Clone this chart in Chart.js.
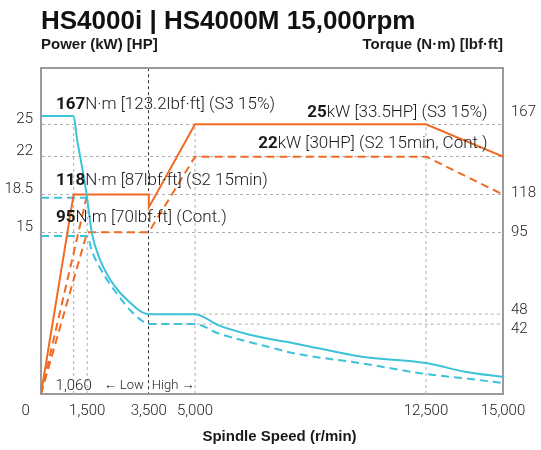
<!DOCTYPE html>
<html>
<head>
<meta charset="utf-8">
<title>HS4000i | HS4000M 15,000rpm</title>
<script src="https://cdn.jsdelivr.net/npm/chart.js@4.4.1/dist/chart.umd.min.js"></script>
<style>
  html, body { margin: 0; padding: 0; background: #fff; }
  #contenedor { width: 541px; height: 450px; position: relative; }
</style>
</head>
<body>
<div id="contenedor"><canvas id="grafica"></canvas></div>
<script>
// Ticks de los ejes
const velTicks = [0, 1500, 3500, 5000, 12500, 15000];
const potTicks = [15, 18.5, 22, 25];
const parTicks = [42, 48, 95, 118, 167];

// Potencia S3 15% (kW)
const potS3Vel = [0, 1060, 3500, 3500, 5000, 12500, 15000];
const potS3 = [0, 18.5, 18.5, 17.3, 25, 25, 22];
// Potencia S2 15min, tramo bajo (después coincide con S3)
const potS2Vel = [0, 1500];
const potS2 = [0, 18.5];
// Potencia continua (y S2 en alta)
const potContVel = [0, 1500, 3500, 5000, 12500, 15000];
const potCont = [0, 15, 15, 22, 22, 18.5];

// Par S3 15% (N·m)
const parS3Vel = [0, 1060, 1170, 1270, 1480, 1650, 1910, 2240, 2560, 2890, 3210, 3500, 5000, 5750, 6620, 7480, 8240, 10420, 12500, 13770, 15000];
const parS3 = [167, 167, 153, 143, 120, 97, 81, 69, 61, 55, 50, 48, 48, 41.4, 36.4, 32.9, 30.4, 22.4, 18.6, 13.4, 10.2];
// Par S2 15min
const parS2Vel = [0, 1500];
const parS2 = [118, 118];
// Par continuo (y S2 en alta)
const parContVel = [0, 1500, 1650, 1910, 2240, 2560, 2890, 3210, 3500, 5000, 5750, 6510, 7370, 8240, 10420, 12500, 13770, 15000];
const parCont = [95, 95, 86, 76, 66, 58, 50.5, 45, 42, 42, 36.5, 32.4, 28.4, 24.4, 18.4, 12, 9.4, 6.6];

// Líneas guía verticales (velocidad y potencia donde terminan)
const guiaVel = [1060, 1500, 5000, 12500];
const guiaPot = [25, 18.5, 25, 25];
// Líneas de referencia de par en alta
const refPar = [48, 42];
const refVel = [3500, 15000];

const naranja = '#f26a22';
const cian = '#3cc3d9';
const gris = '#b0b0b0';

function puntos(xs, ys) {
    return xs.map((x, i) => ({ x: x, y: ys[i] }));
}

function formatoVel(v) {
    if (v === 0) return '0\u2003\u2003';
    return v.toLocaleString('en-US');
}

const fuenteTicks = { family: 'Roboto, sans-serif', size: 15, weight: '300' };

// Textos dentro del gráfico
const notas = [
    { vel: 486, kw: 26.8, fuerte: '167', resto: 'N·m [123.2lbf·ft] (S3 15%)', lado: 'left' },
    { vel: 486, kw: 19.8, fuerte: '118', resto: 'N·m [87lbf·ft] (S2 15min)', lado: 'left' },
    { vel: 486, kw: 16.3, fuerte: '95', resto: 'N·m [70lbf·ft] (Cont.)', lado: 'left' },
    { vel: 14500, kw: 26.1, fuerte: '25', resto: 'kW [33.5HP] (S3 15%)', lado: 'right' },
    { vel: 14500, kw: 23.2, fuerte: '22', resto: 'kW [30HP] (S2 15min, Cont.)', lado: 'right' }
];

const textosPlugin = {
    id: 'textos',
    afterDatasetsDraw(chart) {
        const ctx = chart.ctx;
        const area = chart.chartArea;
        const x = chart.scales.x;
        const yP = chart.scales.yP;
        ctx.save();
        ctx.fillStyle = '#1a1a1a';
        ctx.textBaseline = 'middle';

        // títulos de los ejes verticales
        ctx.font = 'bold 15px "Liberation Sans", Arial, sans-serif';
        ctx.textAlign = 'left';
        ctx.fillText('Power (kW) [HP]', area.left, area.top - 23);
        ctx.textAlign = 'right';
        ctx.fillText('Torque (N·m) [lbf·ft]', area.right, area.top - 23);

        // notas con valor en negrita
        ctx.textAlign = 'left';
        notas.forEach(n => {
            const fB = 'bold 17px Roboto, sans-serif';
            const fR = '300 17px Roboto, sans-serif';
            ctx.font = fB;
            const wB = ctx.measureText(n.fuerte).width;
            ctx.font = fR;
            const wR = ctx.measureText(n.resto).width;
            let px = x.getPixelForValue(n.vel);
            if (n.lado === 'right') px -= wB + wR;
            const py = yP.getPixelForValue(n.kw);
            ctx.font = fB;
            ctx.fillText(n.fuerte, px, py);
            ctx.font = fR;
            ctx.fillText(n.resto, px + wB, py);
        });

        // marcas abajo
        const yBase = yP.getPixelForValue(0) - 8;
        ctx.font = '300 15px Roboto, sans-serif';
        ctx.textAlign = 'center';
        ctx.fillText('1,060', x.getPixelForValue(1060), yBase);
        ctx.font = '300 13px Roboto, sans-serif';
        ctx.textAlign = 'right';
        ctx.fillText('\u2190 Low', x.getPixelForValue(3500) - 5, yBase);
        ctx.textAlign = 'left';
        ctx.fillText('High \u2192', x.getPixelForValue(3500) + 3, yBase);
        ctx.restore();
    }
};

const datasets = [
    { data: puntos(parS3Vel, parS3), yAxisID: 'yT', borderColor: cian, borderWidth: 2, cubicInterpolationMode: 'monotone' },
    { data: puntos(potS3Vel, potS3), yAxisID: 'yP', borderColor: naranja, borderWidth: 2 },
    { data: puntos(parS2Vel, parS2), yAxisID: 'yT', borderColor: cian, borderWidth: 2, borderDash: [8, 5] },
    { data: puntos(parContVel, parCont), yAxisID: 'yT', borderColor: cian, borderWidth: 2, borderDash: [8, 5], cubicInterpolationMode: 'monotone' },
    { data: puntos(potS2Vel, potS2), yAxisID: 'yP', borderColor: naranja, borderWidth: 2, borderDash: [8, 5] },
    { data: puntos(potContVel, potCont), yAxisID: 'yP', borderColor: naranja, borderWidth: 2, borderDash: [8, 5] }
];

guiaVel.forEach((v, i) => {
    datasets.push({ data: [{ x: v, y: 0 }, { x: v, y: guiaPot[i] }], yAxisID: 'yP', borderColor: gris, borderWidth: 1, borderDash: [3, 3] });
});
refPar.forEach(p => {
    datasets.push({ data: refVel.map(v => ({ x: v, y: p })), yAxisID: 'yT', borderColor: gris, borderWidth: 1, borderDash: [3, 3] });
});

new Chart(document.getElementById('grafica'), {
    type: 'line',
    data: { datasets: datasets },
    options: {
        responsive: true,
        maintainAspectRatio: false,
        animation: false,
        events: [],
        elements: { point: { radius: 0 }, line: { tension: 0, fill: false } },
        layout: { padding: 0 },
        plugins: {
            legend: { display: false },
            tooltip: { enabled: false },
            title: {
                display: true,
                text: 'HS4000i | HS4000M 15,000rpm',
                align: 'start',
                fullSize: false,
                color: '#111',
                font: { family: '"Liberation Sans", Arial, sans-serif', size: 26, weight: 'bold' },
                padding: { top: 6, bottom: 31 }
            }
        },
        scales: {
            x: {
                type: 'linear',
                position: 'bottom',
                min: 0,
                max: 15000,
                afterBuildTicks: axis => { axis.ticks = velTicks.map(v => ({ value: v })); },
                afterFit: axis => { axis.height = 56; },
                ticks: { autoSkip: false, maxRotation: 0, padding: 8, color: '#222', font: fuenteTicks, callback: formatoVel },
                grid: {
                    drawTicks: false,
                    lineWidth: 1,
                    color: c => (c.tick && c.tick.value === 3500) ? '#333' : 'rgba(0,0,0,0)'
                },
                border: { display: true, color: '#9b9b9b', width: 2, dash: [3, 3] },
                title: {
                    display: true,
                    text: '\u2003Spindle Speed (r/min)',
                    color: '#1a1a1a',
                    font: { family: '"Liberation Sans", Arial, sans-serif', size: 15, weight: 'bold' },
                    padding: { top: 0, bottom: 4 }
                }
            },
            xTop: {
                type: 'linear',
                position: 'top',
                min: 0,
                max: 15000,
                ticks: { display: false },
                grid: { drawOnChartArea: false, drawTicks: false },
                border: { display: true, color: '#9b9b9b', width: 2 },
                afterFit: axis => { axis.height = 0; }
            },
            yP: {
                type: 'linear',
                position: 'left',
                min: 0,
                max: 30.2,
                afterBuildTicks: axis => { axis.ticks = potTicks.map(v => ({ value: v })); },
                afterFit: axis => { axis.width = 41; },
                ticks: { autoSkip: false, padding: 8, labelOffset: -5, color: '#222', font: fuenteTicks, callback: v => String(v) },
                grid: { drawTicks: false, color: gris, lineWidth: 1 },
                border: { display: true, color: '#9b9b9b', width: 2, dash: [3, 3] }
            },
            yT: {
                type: 'linear',
                position: 'right',
                min: 0,
                max: 195.8,
                afterBuildTicks: axis => { axis.ticks = parTicks.map(v => ({ value: v })); },
                afterFit: axis => { axis.width = 38; },
                ticks: {
                    autoSkip: false, padding: 8, labelOffset: -4, color: '#222', font: fuenteTicks,
                    callback: v => v === 42 ? ['', '42'] : String(v)
                },
                grid: { drawOnChartArea: false, drawTicks: false },
                border: { display: true, color: '#9b9b9b', width: 2 }
            }
        }
    },
    plugins: [textosPlugin]
});
</script>
</body>
</html>
